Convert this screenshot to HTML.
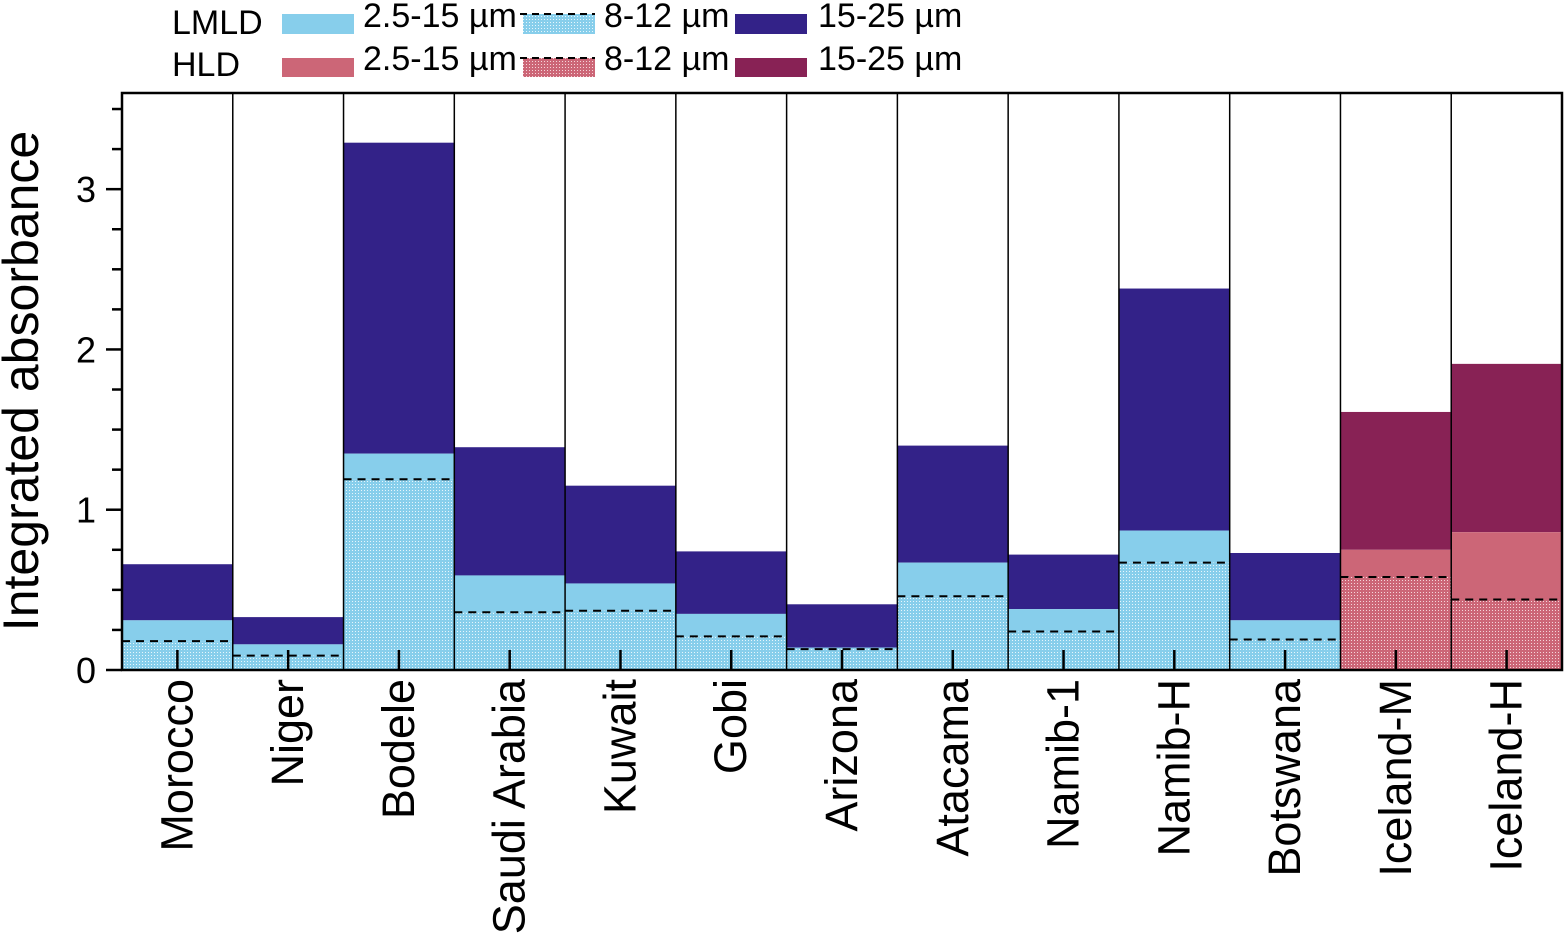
<!DOCTYPE html>
<html><head><meta charset="utf-8"><style>
body{margin:0;background:#fff;}
svg text{font-family:"Liberation Sans",Arial,sans-serif;fill:#000;}
</style></head><body>
<svg id="c" width="1564" height="938" viewBox="0 0 1564 938" xmlns="http://www.w3.org/2000/svg">
<defs>
<pattern id="pb" width="3" height="3" patternUnits="userSpaceOnUse"><rect width="3" height="3" fill="#87CEEB"/><rect x="1" y="1" width="1" height="1" fill="#e6f6fc"/></pattern>
<pattern id="pr" width="3" height="3" patternUnits="userSpaceOnUse"><rect width="3" height="3" fill="#CC6677"/><rect x="1" y="1" width="1" height="1" fill="#f5d5da"/></pattern>
</defs>
<g id="legend">
<text x="172" y="34" font-size="34">LMLD</text>
<text x="172" y="76" font-size="34">HLD</text>
<rect x="282" y="14" width="72" height="20" fill="#87CEEB"/>
<rect x="282" y="58" width="72" height="19" fill="#CC6677"/>
<text x="363" y="27" font-size="34">2.5-15 µm</text>
<text x="363" y="70" font-size="34">2.5-15 µm</text>
<rect x="523" y="14" width="72" height="20" fill="url(#pb)"/>
<rect x="523" y="58" width="72" height="19" fill="url(#pr)"/>
<line x1="520" y1="14" x2="595" y2="14" stroke="#000" stroke-width="2" stroke-dasharray="7,5"/>
<line x1="520" y1="58" x2="595" y2="58" stroke="#000" stroke-width="2" stroke-dasharray="7,5"/>
<text x="604" y="27" font-size="34">8-12 µm</text>
<text x="604" y="70" font-size="34">8-12 µm</text>
<rect x="735" y="14" width="72" height="20" fill="#332288"/>
<rect x="735" y="58" width="72" height="19" fill="#882255"/>
<text x="818" y="27" font-size="34">15-25 µm</text>
<text x="818" y="70" font-size="34">15-25 µm</text>
</g>
<text transform="translate(38,381) rotate(-90)" text-anchor="middle" font-size="50">Integrated absorbance</text>
<g id="plot"></g>
</svg>
<script>
const categories=["Morocco","Niger","Bodele","Saudi Arabia","Kuwait","Gobi","Arizona","Atacama","Namib-1","Namib-H","Botswana","Iceland-M","Iceland-H"];
const total=[0.66,0.33,3.29,1.39,1.15,0.74,0.41,1.40,0.72,2.38,0.73,1.61,1.91];
const band2515=[0.31,0.16,1.35,0.59,0.54,0.35,0.14,0.67,0.38,0.87,0.31,0.75,0.86];
const band812=[0.18,0.09,1.19,0.36,0.37,0.21,0.13,0.46,0.24,0.67,0.19,0.58,0.44];
const isHLD=[0,0,0,0,0,0,0,0,0,0,0,1,1];
const yTicks=[0,1,2,3];
const X0=122,X1=1562,Y0=670,YT=93,YMAX=3.6;
const bw=(X1-X0)/categories.length;
const y=v=>Y0-(v/YMAX)*(Y0-YT);
const xs=i=>X0+i*bw;
const g=document.getElementById('plot');
const NS="http://www.w3.org/2000/svg";
function mk(t,a){const e=document.createElementNS(NS,t);for(const k in a)e.setAttribute(k,a[k]);g.appendChild(e);return e;}
categories.forEach((c,i)=>{
 const x=xs(i),h=isHLD[i];
 let r=mk('rect',{x:x,y:y(total[i]),width:bw,height:y(band2515[i])-y(total[i]),fill:h?'#882255':'#332288'});
 
 
 r=mk('rect',{x:x,y:y(band2515[i]),width:bw,height:y(band812[i])-y(band2515[i]),fill:h?'#CC6677':'#87CEEB'});
 
 
 r=mk('rect',{x:x,y:y(band812[i]),width:bw,height:Y0-y(band812[i]),fill:h?'url(#pr)':'url(#pb)'});
 
 
 const l=mk('line',{x1:x,x2:x+bw,y1:y(band812[i]),y2:y(band812[i]),stroke:'#000','stroke-width':2,'stroke-dasharray':'8,6'});
 
 
 if(i>0){const s=mk('line',{x1:x,x2:x,y1:YT,y2:Y0,stroke:'#000','stroke-width':1.5});
 
 }
 const cx=x+bw/2;
 mk('line',{x1:cx,x2:cx,y1:Y0,y2:Y0-20,stroke:'#000','stroke-width':2.5});
 const t=mk('text',{transform:`translate(${cx+15},${Y0+9}) rotate(-90)`,'text-anchor':'end','font-size':45});
 t.textContent=c;
 
 
});
const f=mk('rect',{x:X0,y:YT,width:X1-X0,height:Y0-YT,fill:'none',stroke:'#000','stroke-width':2.5});


for(let v=0;v<=YMAX+1e-9;v+=0.25){
 const major=Math.abs(v-Math.round(v))<1e-9;
 mk('line',{x1:X0-(major?16:10),x2:X0,y1:y(v),y2:y(v),stroke:'#000','stroke-width':2.5});
}
yTicks.forEach(v=>{
 const t=mk('text',{x:X0-26,y:y(v)+13,'text-anchor':'end','font-size':36});
 t.textContent=v;
 
 
});
</script>
</body></html>
